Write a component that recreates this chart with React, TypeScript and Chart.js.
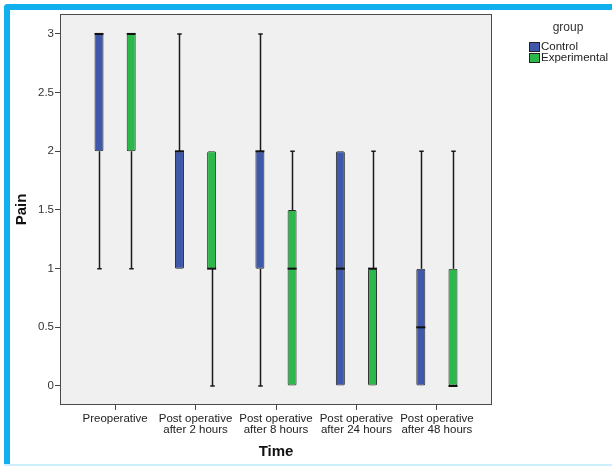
import React, { useEffect, useRef } from "react";
import { Chart, registerables } from "chart.js";

Chart.register(...registerables);

// ---- data ----
const categories: string[][] = [
  ["Preoperative"],
  ["Post operative", "after 2 hours"],
  ["Post operative", "after 8 hours"],
  ["Post operative", "after 24 hours"],
  ["Post operative", "after 48 hours"],
];
const groups = ["Control", "Experimental"];
const groupColors = ["#3f58aa", "#2cb84a"];

const controlMin = [1, 1, 0, 0, 0];
const controlQ1 = [2, 1, 1, 0, 0];
const controlMedian = [3, 2, 2, 1, 0.5];
const controlQ3 = [3, 2, 2, 2, 1];
const controlMax = [3, 3, 3, 2, 2];

const experimentalMin = [1, 0, 0, 0, 0];
const experimentalQ1 = [2, 1, 0, 0, 0];
const experimentalMedian = [3, 1, 1, 1, 0];
const experimentalQ3 = [3, 2, 1.5, 1, 1];
const experimentalMax = [3, 2, 2, 2, 2];

const yTicks = [0, 0.5, 1, 1.5, 2, 2.5, 3];
const yTitle = "Pain";
const xTitle = "Time";
const legendTitle = "group";

const stats = [
  { min: controlMin, q1: controlQ1, med: controlMedian, q3: controlQ3, max: controlMax },
  { min: experimentalMin, q1: experimentalQ1, med: experimentalMedian, q3: experimentalQ3, max: experimentalMax },
];

const FONT = "Arial, 'Liberation Sans', sans-serif";

const boxPlugin = {
  id: "boxExtras",
  beforeDraw(chart: any) {
    const { ctx, chartArea: a } = chart;
    ctx.save();
    ctx.fillStyle = "#f0f0f0";
    ctx.fillRect(a.left, a.top, a.right - a.left, a.bottom - a.top);
    ctx.restore();
  },
  beforeDatasetsDraw(chart: any) {
    const { ctx } = chart;
    const y = chart.scales.y;
    ctx.save();
    ctx.strokeStyle = "#1a1a1a";
    ctx.lineWidth = 1.5;
    stats.forEach((s, di) => {
      const meta = chart.getDatasetMeta(di);
      meta.data.forEach((bar: any, j: number) => {
        const x = Math.round(bar.x) + 0.5;
        const capW = Math.max(4, bar.width * 0.5);
        const yMin = y.getPixelForValue(s.min[j]);
        const yMax = y.getPixelForValue(s.max[j]);
        const yQ1 = y.getPixelForValue(s.q1[j]);
        const yQ3 = y.getPixelForValue(s.q3[j]);
        ctx.beginPath();
        if (s.min[j] < s.q1[j]) {
          ctx.moveTo(x, yQ1);
          ctx.lineTo(x, yMin);
          ctx.moveTo(x - capW / 2, yMin);
          ctx.lineTo(x + capW / 2, yMin);
        }
        if (s.max[j] > s.q3[j]) {
          ctx.moveTo(x, yQ3);
          ctx.lineTo(x, yMax);
          ctx.moveTo(x - capW / 2, yMax);
          ctx.lineTo(x + capW / 2, yMax);
        }
        ctx.stroke();
      });
    });
    ctx.restore();
  },
  afterDatasetsDraw(chart: any) {
    const { ctx, chartArea: a } = chart;
    const y = chart.scales.y;
    ctx.save();
    ctx.strokeStyle = "#111";
    ctx.lineWidth = 2;
    stats.forEach((s, di) => {
      const meta = chart.getDatasetMeta(di);
      meta.data.forEach((bar: any, j: number) => {
        const ym = y.getPixelForValue(s.med[j]);
        ctx.beginPath();
        ctx.moveTo(bar.x - bar.width / 2, ym);
        ctx.lineTo(bar.x + bar.width / 2, ym);
        ctx.stroke();
      });
    });
    // frame
    ctx.strokeStyle = "#4a4a4a";
    ctx.lineWidth = 1;
    ctx.strokeRect(
      Math.round(a.left) + 0.5,
      Math.round(a.top) + 0.5,
      Math.round(a.right - a.left) - 1,
      Math.round(a.bottom - a.top) - 1
    );
    // legend
    ctx.fillStyle = "#333";
    ctx.font = `12px ${FONT}`;
    ctx.textAlign = "center";
    ctx.textBaseline = "middle";
    ctx.fillText(legendTitle, 568, 28);
    ctx.font = `11.5px ${FONT}`;
    ctx.textAlign = "left";
    chart.data.datasets.forEach((ds: any, i: number) => {
      const top = 42 + i * 11;
      ctx.fillStyle = ds.backgroundColor;
      ctx.fillRect(529.5, top + 0.5, 10, 9);
      ctx.strokeStyle = "#222";
      ctx.lineWidth = 1;
      ctx.strokeRect(529.5, top + 0.5, 10, 9);
      ctx.fillStyle = "#222";
      ctx.fillText(ds.label, 541, top + 5);
    });
    ctx.restore();
  },
};

export default function App() {
  const ref = useRef<HTMLCanvasElement | null>(null);

  useEffect(() => {
    if (!ref.current) return;
    const chart = new Chart(ref.current, {
      type: "bar",
      data: {
        datasets: groups.map((g, gi) => ({
          label: g,
          data: categories.map((_, j) => ({ x: j, y: [stats[gi].q1[j], stats[gi].q3[j]] })),
          backgroundColor: groupColors[gi],
          borderColor: "#2a2a2a",
          borderWidth: 1,
          borderSkipped: false,
          borderRadius: 1.5,
          barPercentage: 0.28,
          categoryPercentage: 0.8,
        })) as any,
      },
      options: {
        responsive: false,
        animation: false,
        devicePixelRatio: 1,
        events: [],
        layout: { padding: { top: 14, right: 120, bottom: 0, left: 0 } },
        plugins: {
          legend: { display: false },
          tooltip: { enabled: false },
        },
        scales: {
          x: {
            type: "linear",
            min: -0.685,
            max: 4.685,
            offset: false,
            afterFit: (s: any) => {
              s.height = 61;
            },
            afterBuildTicks: (s: any) => {
              s.ticks = categories.map((_, i) => ({ value: i }));
            },
            grid: {
              display: true,
              offset: false,
              drawOnChartArea: false,
              drawTicks: true,
              tickLength: 5,
              color: "#444",
            },
            border: { display: false },
            ticks: {
              autoSkip: false,
              maxRotation: 0,
              padding: 3,
              color: "#222",
              font: { family: FONT, size: 11.5, lineHeight: 0.95 },
              callback: (v: any) => categories[Math.round(Number(v))] ?? "",
            },
            title: {
              display: true,
              text: xTitle,
              color: "#111",
              font: { family: FONT, size: 15, weight: "bold" },
              padding: { top: 0, bottom: 5.6 },
            },
          },
          y: {
            type: "linear",
            min: -0.162,
            max: 3.17,
            afterFit: (s: any) => {
              s.width = 60;
            },
            afterBuildTicks: (s: any) => {
              s.ticks = yTicks.map((v) => ({ value: v }));
            },
            grid: {
              display: true,
              drawOnChartArea: false,
              drawTicks: true,
              tickLength: 5,
              color: "#444",
            },
            border: { display: false },
            ticks: {
              padding: 1,
              color: "#333",
              font: { family: FONT, size: 11.5 },
              callback: (v: any) => String(v),
            },
            title: {
              display: true,
              text: yTitle,
              color: "#111",
              font: { family: FONT, size: 15, weight: "bold" },
              padding: { top: 13, bottom: 0 },
            },
          },
        },
      },
      plugins: [boxPlugin],
    });
    return () => chart.destroy();
  }, []);

  return (
    <div
      style={{
        position: "fixed",
        left: 0,
        top: 0,
        width: 612,
        height: 466,
        background: "#fff",
        overflow: "hidden",
      }}
    >
      <div
        style={{
          position: "absolute",
          left: 4,
          top: 4,
          right: 0,
          height: 6,
          background: "#10b0ee",
          borderTopLeftRadius: 4,
        }}
      />
      <div
        style={{
          position: "absolute",
          left: 4,
          top: 4,
          width: 6,
          height: 462,
          background: "#10b0ee",
          borderTopLeftRadius: 4,
        }}
      />
      <div
        style={{
          position: "absolute",
          left: 4,
          right: 0,
          top: 464,
          height: 2,
          background: "#cdeefb",
        }}
      />
      <canvas
        ref={ref}
        width={612}
        height={466}
        style={{ position: "absolute", left: 0, top: 0, width: 612, height: 466 }}
      />
    </div>
  );
}
